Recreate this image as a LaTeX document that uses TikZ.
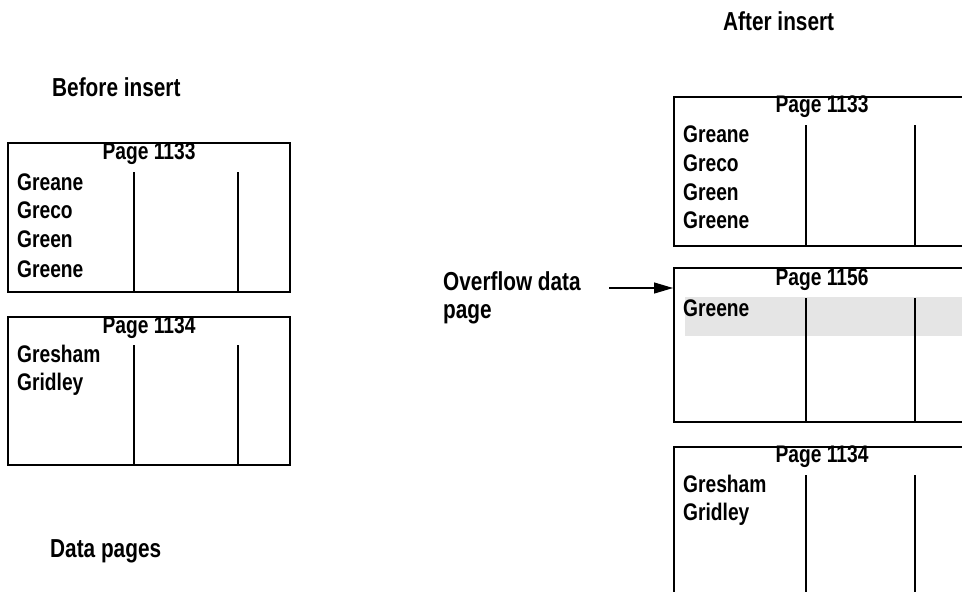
\documentclass[tikz,border=0pt]{standalone}
\usepackage{fontspec}
\setmainfont{Liberation Sans}[FakeStretch=0.8]
\usetikzlibrary{arrows.meta}
\definecolor{bandgray}{HTML}{E5E5E5}
\tikzset{
  lbl/.style={anchor=base west, inner sep=0pt, font=\fontsize{26}{30}\selectfont\bfseries},
  row/.style={anchor=base west, inner sep=0pt, font=\fontsize{24}{28}\selectfont\bfseries},
  ptitle/.style={anchor=base, inner sep=0pt, font=\fontsize{24}{28}\selectfont\bfseries},
  box/.style={draw=black, line width=2pt},
  col/.style={draw=black, line width=2pt},
  arr/.style={draw=black, line width=1.2pt, -{Triangle[length=19pt,width=11pt]}}
}
\begin{document}
\begin{tikzpicture}[x=1pt,y=-1pt]
\useasboundingbox (0,0) rectangle (962,592);
% labels
\node[lbl] (before) at (52,96) {Before insert};
\node[lbl] (after) at (723,30) {After insert};
\node[lbl] (datap) at (50,557) {Data pages};
\node[lbl] (ovf1) at (443,290) {Overflow data};
\node[lbl] (ovf2) at (443,318) {page};
% left box 1133
\draw[box] (8,143) rectangle (290,292);
\draw[col] (134,172) -- (134,292);
\draw[col] (238,172) -- (238,292);
\node[ptitle] (lt1) at (149,159) {Page 1133};
\node[row] (l1a) at (17,190) {Greane};
\node[row] (l1b) at (17,218) {Greco};
\node[row] (l1c) at (17,247) {Green};
\node[row] (l1d) at (17,277) {Greene};
% left box 1134
\draw[box] (8,317) rectangle (290,465);
\draw[col] (134,345) -- (134,465);
\draw[col] (238,345) -- (238,465);
\node[ptitle] (lt2) at (149,333) {Page 1134};
\node[row] (l2a) at (17,362) {Gresham};
\node[row] (l2b) at (17,390) {Gridley};
% right box 1133
\draw[box] (674,97) rectangle (969,246);
\draw[col] (806,125) -- (806,246);
\draw[col] (915,125) -- (915,246);
\node[ptitle] (rt1) at (822,112) {Page 1133};
\node[row] (r1a) at (683,142) {Greane};
\node[row] (r1b) at (683,171) {Greco};
\node[row] (r1c) at (683,200) {Green};
\node[row] (r1d) at (683,228) {Greene};
% overflow box 1156
\fill[bandgray] (685,297) rectangle (969,336);
\draw[box] (674,268) rectangle (969,422);
\draw[col] (806,298) -- (806,422);
\draw[col] (915,298) -- (915,422);
\node[ptitle] (rt2) at (822,285) {Page 1156};
\node[row] (r2a) at (683,316) {Greene};
\coordinate (ovfbox) at (673,288);
% bottom box 1134
\draw[box] (674,447) rectangle (969,620);
\draw[col] (806,475) -- (806,620);
\draw[col] (915,475) -- (915,620);
\node[ptitle] (rt3) at (822,462) {Page 1134};
\node[row] (r3a) at (683,492) {Gresham};
\node[row] (r3b) at (683,520) {Gridley};
% arrow
\coordinate (arrs) at (609,288);
\draw[arr] (arrs) -- (ovfbox);
\end{tikzpicture}
\end{document}
